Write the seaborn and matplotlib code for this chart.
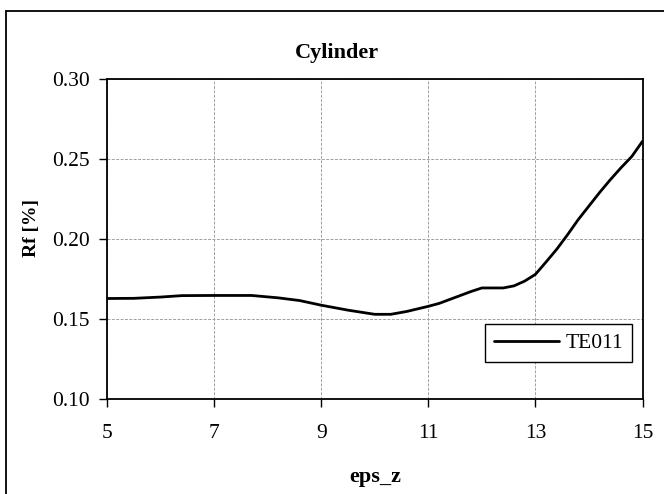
import matplotlib
matplotlib.use("Agg")
import matplotlib.pyplot as plt
from matplotlib.lines import Line2D
from matplotlib.legend_handler import HandlerLine2D
import seaborn as sns
import pandas as pd

# ---- data ----
eps_z = [5.0, 5.5, 6.0, 6.4, 7.0, 7.7, 8.2, 8.6, 9.0, 9.5, 10.0, 10.3, 10.6,
         11.0, 11.2, 11.4, 11.6, 11.8, 12.0, 12.2, 12.4, 12.6, 12.8, 13.0,
         13.2, 13.4, 13.6, 13.8, 14.0, 14.2, 14.4, 14.6, 14.8, 15.0]
rf_te011 = [0.1626, 0.1627, 0.1635, 0.1644, 0.1645, 0.1645, 0.1630, 0.1613,
            0.1584, 0.1553, 0.1527, 0.1527, 0.1545, 0.1577, 0.1595, 0.1620,
            0.1645, 0.1670, 0.1692, 0.1692, 0.1692, 0.1705, 0.1735, 0.1777,
            0.1855, 0.1935, 0.2025, 0.2120, 0.2205, 0.2290, 0.2370, 0.2445,
            0.2515, 0.2610]
series_name = "TE011"
title = "Cylinder"
x_label = "eps_z"
y_label = "Rf [%]"
x_ticks = [5, 7, 9, 11, 13, 15]
y_ticks = [0.10, 0.15, 0.20, 0.25, 0.30]

df = pd.DataFrame({"eps_z": eps_z, "Rf": rf_te011, "series": series_name})

sns.set_theme(style="white")
plt.rcParams["font.family"] = ["Liberation Serif", "DejaVu Serif"]
plt.rcParams["text.color"] = "black"
plt.rcParams["xtick.color"] = "black"
plt.rcParams["ytick.color"] = "black"

W, H = 664, 494
fig = plt.figure(figsize=(W / 100, H / 100), dpi=100)
fig.patch.set_facecolor("white")
ax = fig.add_axes([107 / W, 1 - 398.5 / H, (642.5 - 107) / W, (398.5 - 79) / H])

sns.lineplot(data=df, x="eps_z", y="Rf", color="black", linewidth=2.0,
             label=series_name, estimator=None, sort=True, ax=ax)

ax.set_xlim(5, 15)
ax.set_ylim(0.10, 0.30)
ax.set_xticks(x_ticks)
ax.set_xticklabels([str(t) for t in x_ticks])
ax.set_yticks(y_ticks)
ax.set_yticklabels([f"{t:.2f}" for t in y_ticks])
ax.set_xlabel("")
ax.set_ylabel("")

ax.grid(True, color="#a0a0a0", linestyle=(0, (3, 1.5)), linewidth=0.7)
ax.set_axisbelow(True)
for s in ax.spines.values():
    s.set_visible(True)
    s.set_color("black")
    s.set_linewidth(1.3)

ax.tick_params(axis="x", which="major", direction="out", length=5.5, width=1.0,
               pad=13, labelsize=15.5, bottom=True)
ax.tick_params(axis="y", which="major", direction="out", length=5.5, width=1.0,
               pad=7, labelsize=15.5, left=True)


class RightLine(HandlerLine2D):
    def create_artists(self, legend, orig_handle, xdescent, ydescent, width,
                       height, fontsize, trans):
        arts = super().create_artists(legend, orig_handle, xdescent, ydescent,
                                      width, height, fontsize, trans)
        for a in arts:
            xd = list(a.get_xdata())
            if len(xd) == 2:
                x0, x1 = xd
                a.set_xdata([x0 + 0.42 * (x1 - x0), x1])
        return arts


handles, labels = ax.get_legend_handles_labels()
leg = ax.legend(handles, labels, loc="lower right",
                bbox_to_anchor=(0.981, 0.115), borderaxespad=0,
                frameon=True, fancybox=False, shadow=False, fontsize=15.5,
                handlelength=3.0, handletextpad=0.35, borderpad=0.4,
                handler_map={handles[0]: RightLine()})
leg.get_frame().set_edgecolor("black")
leg.get_frame().set_linewidth(1.0)
leg.get_frame().set_facecolor("white")
leg.get_frame().set_alpha(1)

fig.text(337 / W, 1 - 53 / H, title, ha="center", va="center",
         fontsize=16, fontweight="bold")
fig.text(375 / W, 1 - 477 / H, x_label, ha="center", va="center",
         fontsize=16, fontweight="bold")
fig.text(31.7 / W, 1 - 228 / H, y_label, ha="center", va="center",
         fontsize=14, fontweight="bold", rotation=90)

# outer chart-area border (only top and left visible in the reference)
fig.add_artist(Line2D([6 / W, 1.01], [1 - 11 / H, 1 - 11 / H],
                      transform=fig.transFigure, color="black", linewidth=1.3))
fig.add_artist(Line2D([6 / W, 6 / W], [1 - 11 / H, -0.01],
                      transform=fig.transFigure, color="black", linewidth=1.3))

fig.savefig("out.png", dpi=100, facecolor="white")
